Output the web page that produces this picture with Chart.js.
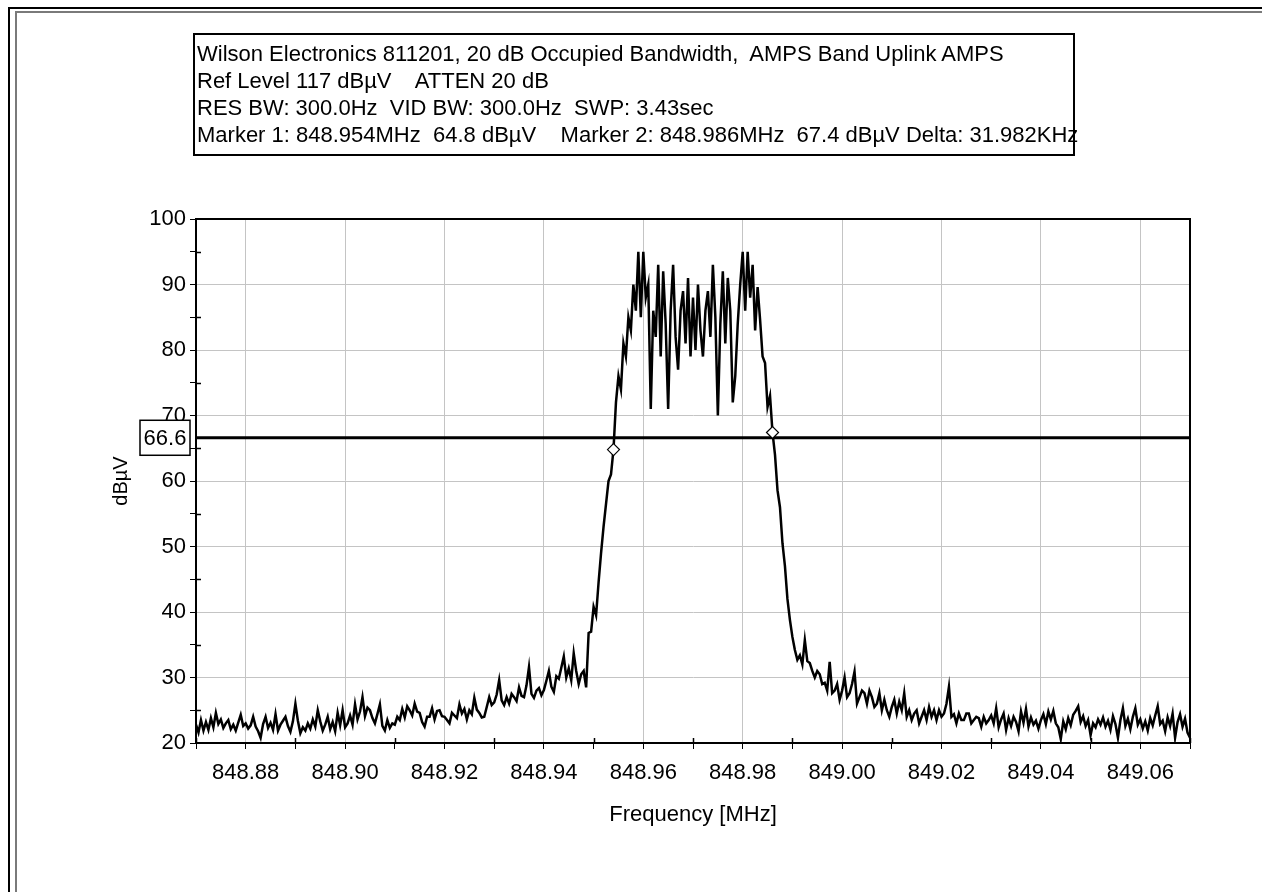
<!DOCTYPE html>
<html>
<head>
<meta charset="utf-8">
<title>AMPS Band Uplink - 20 dB Occupied Bandwidth</title>
<script src="https://cdn.jsdelivr.net/npm/chart.js@4.4.1/dist/chart.umd.min.js"></script>
<style>
  html, body { margin: 0; padding: 0; background: #fff; }
  #wrap { position: relative; width: 1262px; height: 892px; overflow: hidden; }
  #chart { position: absolute; left: 0; top: 0; }
  .frame-outer { position: absolute; left: 8px; top: 7px; right: -10px; bottom: -10px; border-left: 2px solid #000; border-top: 2px solid #000; }
  .frame-inner { position: absolute; left: 15px; top: 11px; right: -10px; bottom: -10px; border-left: 2px solid #7a7a7a; border-top: 2px solid #7a7a7a; }
  #header {
    position: absolute; left: 193px; top: 33px; width: 882px; height: 123px;
    box-sizing: border-box; border: 2px solid #000; padding: 5px 0 0 2px;
    font-family: "Liberation Sans", Arial, sans-serif; font-size: 22px; line-height: 27px;
    color: #000; white-space: pre;
  }
</style>
</head>
<body>
<div id="wrap">
  <canvas id="chart" width="1262" height="892"></canvas>
  <div class="frame-outer"></div>
  <div class="frame-inner"></div>
  <div id="header"></div>
</div>
<script>
// Header text of the analyzer plot
const headerLines = [
  "Wilson Electronics 811201, 20 dB Occupied Bandwidth,  AMPS Band Uplink AMPS",
  "Ref Level 117 dBµV    ATTEN 20 dB",
  "RES BW: 300.0Hz  VID BW: 300.0Hz  SWP: 3.43sec",
  "Marker 1: 848.954MHz  64.8 dBµV    Marker 2: 848.986MHz  67.4 dBµV Delta: 31.982KHz"
];

// Sweep: 401 points from 848.870 MHz, 0.5 kHz apart
const freqStart = 848.87;
const freqStep = 0.0005;

// Trace level (dBµV)
const levels = [
  22.8, 21.6, 23.5, 21.9, 23.2, 22.0, 23.8, 22.4, 24.6, 22.9, 23.6, 22.3, 23.0, 23.5, 22.1, 22.8, 21.9, 23.1, 24.3, 22.6,
  23.0, 22.2, 22.7, 24.0, 22.5, 21.8, 20.8, 22.9, 24.0, 22.3, 23.1, 22.0, 24.4, 21.9, 22.8, 23.4, 24.0, 22.6, 21.7, 23.3,
  26.0, 23.4, 21.5, 22.4, 21.9, 23.0, 22.2, 23.6, 22.5, 25.0, 23.3, 21.9, 22.8, 24.0, 22.1, 23.2, 21.8, 24.6, 22.7, 25.0,
  22.4, 23.0, 24.2, 22.8, 25.9, 23.6, 24.8, 27.0, 24.1, 25.4, 25.0, 23.8, 23.0, 24.4, 25.9, 22.6, 21.9, 23.5, 22.3, 23.0,
  22.8, 24.0, 23.5, 25.2, 23.9, 25.6, 25.0, 24.2, 26.0, 24.8, 24.6, 23.2, 22.5, 24.0, 24.0, 25.3, 23.6, 24.9, 25.0, 24.1,
  24.0, 23.5, 23.0, 24.6, 24.2, 23.8, 25.9, 24.5, 25.2, 23.6, 25.0, 24.4, 26.9, 25.1, 24.6, 23.9, 24.0, 25.5, 27.0, 25.8,
  26.2, 27.4, 29.6, 26.5, 25.8, 27.0, 26.0, 27.5, 27.0, 26.4, 28.5, 27.2, 27.0, 28.8, 31.6, 27.5, 26.9, 28.0, 28.4, 27.3,
  28.1, 29.5, 31.0, 28.6, 27.8, 30.2, 29.8, 31.5, 33.2, 30.0, 31.4, 29.6, 33.7, 31.0, 29.0, 30.5, 31.0, 28.5, 36.8, 37.0,
  40.8, 39.5, 44.5, 49.0, 53.0, 56.5, 60.0, 61.0, 64.8, 72.0, 76.0, 74.0, 81.0, 79.0, 85.0, 83.0, 90.0, 86.0, 95.0, 85.0,
  95.0, 88.0, 90.0, 71.0, 86.0, 82.0, 93.0, 79.0, 92.0, 84.0, 71.0, 86.0, 93.0, 82.0, 77.0, 86.0, 89.0, 81.0, 91.0, 79.0,
  88.0, 80.0, 90.0, 83.0, 79.0, 86.0, 89.0, 82.0, 93.0, 85.0, 70.0, 84.0, 92.0, 81.0, 91.0, 86.0, 72.0, 76.0, 84.0, 90.0,
  95.0, 86.0, 95.0, 88.0, 93.0, 83.0, 89.6, 84.6, 79.0, 78.0, 71.3, 73.0, 67.4, 64.0, 58.6, 56.0, 50.5, 47.0, 42.0, 38.8,
  36.2, 34.2, 32.7, 33.4, 32.0, 35.7, 32.5, 32.2, 31.0, 30.0, 31.0, 30.5, 29.0, 29.2, 28.0, 32.4, 27.6, 28.0, 29.0, 26.6,
  28.0, 30.0, 27.0, 27.6, 29.0, 30.9, 26.0, 27.0, 28.0, 27.6, 26.0, 28.0, 27.0, 25.5, 26.0, 27.6, 25.0, 26.6, 25.0, 24.0,
  25.5, 26.6, 24.5, 26.3, 25.0, 27.6, 24.0, 25.0, 23.5, 24.5, 25.0, 23.0, 24.0, 25.0, 23.5, 25.5, 24.0, 25.0, 23.5, 25.0,
  24.0, 24.5, 26.0, 28.6, 24.0, 24.4, 23.0, 24.5, 23.5, 23.5, 24.5, 24.5, 23.0, 23.5, 24.0, 23.8, 22.5, 24.0, 23.0, 23.5,
  24.2, 23.0, 25.3, 22.4, 23.6, 24.5, 22.0, 23.8, 22.6, 24.0, 23.2, 21.8, 24.8, 23.1, 25.2, 22.5, 23.9, 22.8, 23.4, 22.2,
  23.5, 24.4, 22.9, 24.8, 23.6, 24.9, 23.0, 22.4, 20.6, 23.3, 22.1, 23.8, 22.7, 24.3, 24.9, 25.6, 23.2, 24.1, 22.6, 23.5,
  21.2, 23.0, 22.4, 23.6, 22.8, 23.9, 22.5, 23.4, 22.0, 24.1, 22.9, 20.8, 23.5, 25.3, 22.6, 23.7, 22.1, 24.0, 25.3, 22.8,
  23.6, 22.2, 23.3, 21.9, 23.8, 22.7, 24.2, 25.6, 22.9, 23.4, 21.8, 23.9, 22.6, 24.5, 20.8, 23.2, 24.4, 22.5, 23.7, 21.6, 20.8
];

// Display line and markers
const thresholdLevel = 66.6;
const markerFreqs = [848.954, 848.986];
const markerLevels = [64.8, 67.4];

// Axis ticks (majors carry labels and grid lines)
const xTicks = [848.87, 848.88, 848.89, 848.90, 848.91, 848.92, 848.93, 848.94, 848.95, 848.96, 848.97,
                848.98, 848.99, 849.00, 849.01, 849.02, 849.03, 849.04, 849.05, 849.06, 849.07];
const yTicks = [20, 25, 30, 35, 40, 45, 50, 55, 60, 65, 70, 75, 80, 85, 90, 95, 100];

document.getElementById("header").textContent = headerLines.join("\n");

const fontFamily = '"Liberation Sans", Arial, sans-serif';
const gridGray = "#c4c4c4";

const isMajorX = v => Math.round(v * 100) % 2 === 0;
const isMajorY = v => Math.round(v) % 10 === 0;

const traceData = levels.map((v, i) => ({ x: freqStart + i * freqStep, y: v }));
const xMin = xTicks[0];
const xMax = xTicks[xTicks.length - 1];

// Frame around the plot, minor ticks crossing the axes, and the "66.6" tag
const framePlugin = {
  id: "frame",
  afterDatasetsDraw(chart) {
    const { ctx, chartArea: a, scales } = chart;
    ctx.save();
    ctx.strokeStyle = "#000";
    ctx.lineWidth = 2;
    ctx.strokeRect(a.left, a.top, a.right - a.left, a.bottom - a.top);

    // minor ticks poke a little into the plot
    ctx.lineWidth = 1.5;
    ctx.beginPath();
    yTicks.forEach(v => {
      if (isMajorY(v)) return;
      const y = Math.round(scales.y.getPixelForValue(v)) + 0.5;
      ctx.moveTo(a.left, y);
      ctx.lineTo(a.left + 5, y);
    });
    xTicks.forEach(v => {
      if (isMajorX(v)) return;
      const x = Math.round(scales.x.getPixelForValue(v)) + 0.5;
      ctx.moveTo(x, a.bottom);
      ctx.lineTo(x, a.bottom - 5);
    });
    ctx.stroke();
    ctx.restore();
  },
  afterDraw(chart) {
    const { ctx, chartArea: a, scales } = chart;
    const y = scales.y.getPixelForValue(thresholdLevel);
    const w = 50, h = 35;
    const x0 = a.left - 56;
    ctx.save();
    ctx.fillStyle = "#fff";
    ctx.fillRect(x0, y - h / 2, w, h);
    ctx.strokeStyle = "#000";
    ctx.lineWidth = 1.5;
    ctx.strokeRect(x0, y - h / 2, w, h);
    ctx.fillStyle = "#000";
    ctx.font = "22px " + fontFamily;
    ctx.textAlign = "center";
    ctx.textBaseline = "middle";
    ctx.fillText(thresholdLevel.toFixed(1), x0 + w / 2, y + 1);
    ctx.restore();
  }
};

new Chart(document.getElementById("chart").getContext("2d"), {
  type: "line",
  data: {
    datasets: [
      {
        label: "Trace",
        data: traceData,
        borderColor: "#000",
        borderWidth: 2.5,
        pointRadius: 0,
        tension: 0,
        order: 2
      },
      {
        label: "Display line",
        data: [{ x: xMin, y: thresholdLevel }, { x: xMax, y: thresholdLevel }],
        borderColor: "#000",
        borderWidth: 3,
        pointRadius: 0,
        order: 1
      },
      {
        label: "Markers",
        data: markerFreqs.map((f, i) => ({ x: f, y: markerLevels[i] })),
        showLine: false,
        pointStyle: "rectRot",
        pointRadius: 6,
        pointBackgroundColor: "#fff",
        pointBorderColor: "#000",
        pointBorderWidth: 1.2,
        order: 0
      }
    ]
  },
  options: {
    responsive: false,
    animation: false,
    devicePixelRatio: 1,
    layout: { padding: { left: 109, right: 72, top: 219, bottom: 64 } },
    plugins: {
      legend: { display: false },
      tooltip: { enabled: false }
    },
    scales: {
      x: {
        type: "linear",
        min: xMin,
        max: xMax,
        afterBuildTicks: s => { s.ticks = xTicks.map(v => ({ value: v })); },
        afterFit: s => { s.height = 85; },
        ticks: {
          autoSkip: false,
          maxRotation: 0,
          padding: 11,
          color: "#000",
          font: { family: fontFamily, size: 22 },
          callback: v => (isMajorX(v) ? v.toFixed(2) : "")
        },
        grid: {
          color: c => (c.tick && isMajorX(c.tick.value) ? gridGray : "transparent"),
          tickColor: "#000",
          tickLength: 6,
          lineWidth: 1
        },
        border: { color: "#000", width: 2 },
        title: {
          display: true,
          text: "Frequency [MHz]",
          color: "#000",
          font: { family: fontFamily, size: 22 },
          padding: 0
        }
      },
      y: {
        min: 20,
        max: 100,
        afterBuildTicks: s => { s.ticks = yTicks.map(v => ({ value: v })); },
        afterFit: s => { s.width = 87; },
        ticks: {
          autoSkip: false,
          padding: 4,
          color: "#000",
          font: { family: fontFamily, size: 22 },
          callback: v => (isMajorY(v) ? String(v) : "")
        },
        grid: {
          color: c => (c.tick && isMajorY(c.tick.value) ? gridGray : "transparent"),
          tickColor: "#000",
          tickLength: 6,
          lineWidth: 1
        },
        border: { color: "#000", width: 2 },
        title: {
          display: true,
          text: "dBµV",
          color: "#000",
          font: { family: fontFamily, size: 20 },
          padding: 0
        }
      }
    }
  },
  plugins: [framePlugin]
});
</script>
</body>
</html>
